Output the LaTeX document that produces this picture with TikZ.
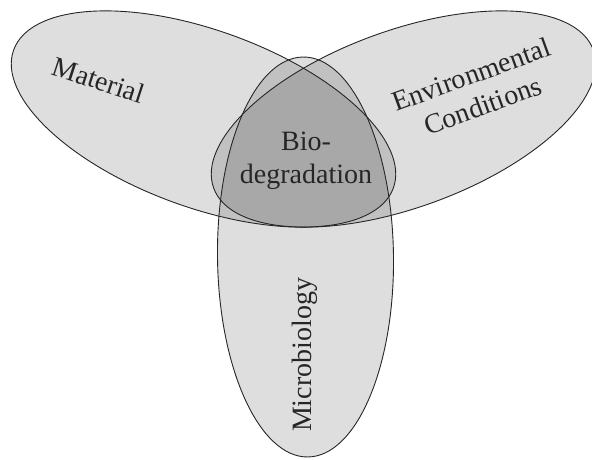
\documentclass[tikz,border=0pt]{standalone}
\usepackage{fontspec}
\setmainfont{Liberation Serif}
\begin{document}
\begin{tikzpicture}[x=1pt,y=1pt,
  petal/.style={fill=black, fill opacity=0.13},
  rim/.style={draw=black!85, line width=0.9pt},
  txt/.style={text=black!85, font=\fontsize{28}{33}\selectfont, align=center, inner sep=0pt}]
  \useasboundingbox (0,0) rectangle (592,459);
  \clip (0,0) rectangle (592,459);

  % translucent fills: overlaps darken
  \path[petal] (203.5,340) ellipse [x radius=202, y radius=88.5, rotate=-20];
  \path[petal] (403.5,340) ellipse [x radius=202, y radius=88.5, rotate=20];
  \path[petal] (305.5,202) ellipse [x radius=88, y radius=200, rotate=0.7];

  % outlines on top
  \draw[rim] (203.5,340) ellipse [x radius=202, y radius=88.5, rotate=-20];
  \draw[rim] (403.5,340) ellipse [x radius=202, y radius=88.5, rotate=20];
  \draw[rim] (305.5,202) ellipse [x radius=88, y radius=200, rotate=0.7];

  \node[txt, rotate=-18] (mat) at (99,379) {Material};
  \node[txt, rotate=20] (env) at (477,369) {Environmental\\Conditions};
  \node[txt] (bio) at (306,298) {Bio-\\degradation};
  \node[txt, rotate=90] (mic) at (305,104) {Microbiology};
\end{tikzpicture}
\end{document}
